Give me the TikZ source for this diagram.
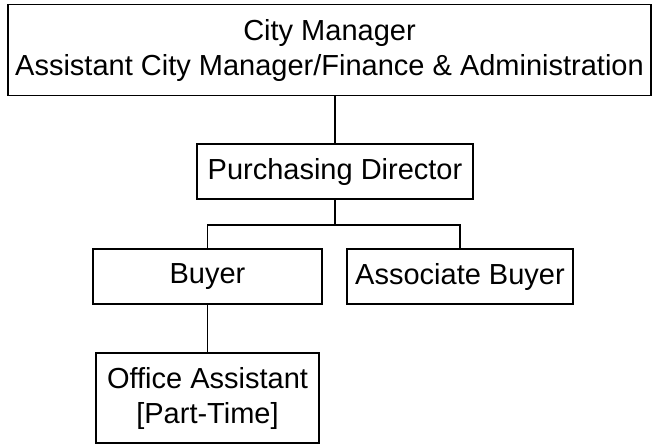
\documentclass[tikz,border=0pt]{standalone}
\usepackage{fontspec}
\setmainfont{Liberation Sans}
\usepackage{tikz}

\tikzset{
  post/.style={draw=black, line width=1.5pt, align=center, inner sep=0pt,
               font=\fontsize{29}{35}\selectfont},
  link/.style={black, line width=1.5pt}
}

\begin{document}
\begin{tikzpicture}[x=1pt, y=-1pt]
                    \useasboundingbox (0,0) rectangle (653,445);
                    \node[post, minimum width=643pt, minimum height=91pt] (cm) at (329.5,50)
                        {City Manager\\Assistant City Manager/Finance \& Administration};
                    \node[post, minimum width=276pt, minimum height=55pt] (pd) at (335,171.5)
                        {Purchasing Director};
                    \node[post, minimum width=229pt, minimum height=55pt] (buyer) at (207.5,276.5)
                        {Buyer};
                    \node[post, minimum width=226pt, minimum height=55pt] (assoc) at (460,276.5)
                        {Associate Buyer};
                    \node[post, minimum width=223pt, minimum height=90pt] (oa) at (207.5,398)
                        {Office Assistant\\{[Part-Time]}};

                    \draw[link] (pd.north) -- (pd.north |- cm.south);
                    \draw[link] (pd.south) -- ++(0,25) coordinate (fork);
                    \draw[link] (buyer.north) |- (fork) -| (assoc.north);
                    \draw[link] (buyer.south) -- (oa.north);
                \end{tikzpicture}
\end{document}
